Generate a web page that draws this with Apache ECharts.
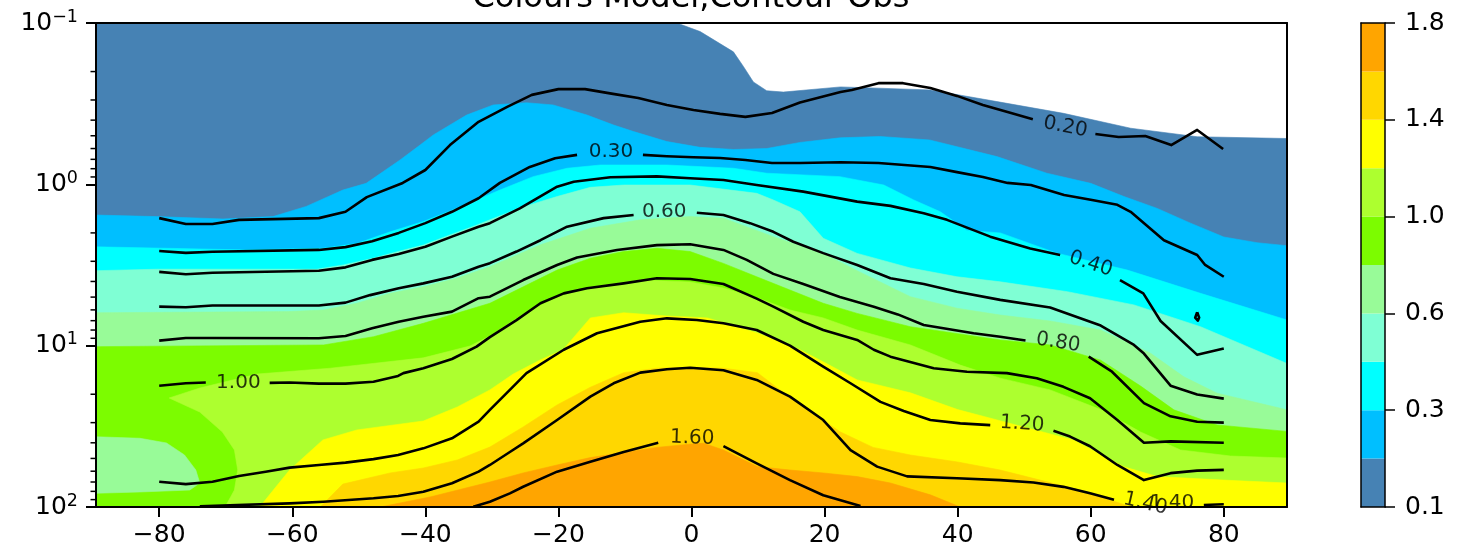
<!DOCTYPE html>
<html>
<head>
<meta charset="utf-8">
<script src="https://cdn.jsdelivr.net/npm/echarts@6/dist/echarts.min.js"></script>
<style>
html,body{margin:0;padding:0;background:#fff;}
#c{width:1463px;height:556px;}
</style>
</head>
<body>
<div id="c"></div>
<script>
// ---------------- data ----------------
const levels = [0.1, 0.2, 0.3, 0.4, 0.6, 0.8, 1.0, 1.2, 1.4, 1.6, 1.8];
const bandColors = ['#4682B4', '#00BFFF', '#00FFFF', '#7FFFD4', '#98FB98', '#7CFC00', '#ADFF2F', '#FFFF00', '#FFD700', '#FFA500'];
const latTicks = [-80, -60, -40, -20, 0, 20, 40, 60, 80];
const pMinorTicks = [0.2,0.3,0.4,0.5,0.6,0.7,0.8,0.9, 2,3,4,5,6,7,8,9, 20,30,40,50,60,70,80,90];
const cbarTickIdx = [0, 2, 4, 6, 8, 10];

// Model field: regions where value >= level  ([lat, pressure])
const model010 = [[-89.5,0.1],[-2.2,0.1],[1.3,0.113],[6.3,0.151],[7.8,0.186],[9.3,0.232],[11.3,0.263],[13.8,0.268],[22.4,0.249],[35.9,0.26],[45.9,0.307],[55.9,0.363],[66.0,0.449],[76.0,0.507],[89.5,0.52],[89.5,100],[-89.5,100]];
const model020 = [[-89.5,1.55],[-80.4,1.585],[-70.4,1.64],[-62.9,1.585],[-57.9,1.37],[-52.4,1.085],[-48.9,0.986],[-43.8,0.706],[-40.8,0.571],[-38.8,0.494],[-33.8,0.372],[-29.8,0.322],[-24.8,0.312],[-20.8,0.322],[-15.7,0.372],[-11.7,0.429],[-8.7,0.471],[-3.7,0.543],[1.3,0.59],[6.3,0.608],[11.3,0.6],[16.3,0.55],[22.3,0.515],[28.3,0.505],[35.8,0.531],[45.9,0.673],[53.4,0.853],[60.0,0.986],[65.0,1.19],[70.0,1.41],[75.0,1.74],[80.0,2.12],[85.0,2.3],[89.5,2.4],[89.5,100],[-89.5,100]];
const model030 = [[-89.5,2.44],[-67.0,2.55],[-55.3,2.49],[-50.3,2.33],[-45.3,1.97],[-40.3,1.70],[-35.3,1.41],[-32.3,1.25],[-28.8,1.085],[-23.8,0.896],[-18.7,0.795],[-13.7,0.759],[-3.7,0.759],[6.3,0.795],[11.3,0.853],[22.3,0.896],[28.9,1.01],[33.4,1.25],[37.4,1.48],[41.4,1.93],[46.4,2.0],[54.9,2.67],[65.5,3.40],[76.5,4.74],[89.5,6.93],[89.5,100],[-89.5,100]];
const model040 = [[-89.5,3.43],[-80.4,3.36],[-56.3,3.36],[-52.3,3.16],[-47.8,2.87],[-44.1,2.61],[-40.3,2.38],[-36.3,2.06],[-32.3,1.79],[-30.3,1.66],[-25.3,1.38],[-20.2,1.19],[-15.2,1.044],[-10.2,1.01],[-0.2,1.01],[9.8,1.137],[12.3,1.25],[16.3,1.48],[19.8,2.16],[24.9,2.68],[32.9,3.30],[39.9,3.74],[46.4,4.02],[56.5,4.63],[66.5,5.59],[76.5,7.63],[89.5,12.9],[89.5,100],[-89.5,100]];
const model060 = [[-89.5,6.25],[-60.6,6.15],[-55.3,6.01],[-50.3,5.46],[-45.3,4.74],[-40.3,4.32],[-35.3,3.82],[-30.3,3.24],[-22.8,2.38],[-15.2,1.87],[-7.7,1.66],[-0.2,1.585],[4.8,1.62],[12.3,2.11],[19.8,2.68],[24.9,3.43],[32.9,4.97],[39.9,5.86],[46.4,6.46],[53.9,7.03],[61.5,8.0],[69.0,11.15],[74.0,15.6],[79.0,19.7],[89.5,25.0],[89.5,100],[-89.5,100]];
const model080 = [[-89.5,10.14],[-55.3,9.9],[-47.8,8.8],[-40.3,7.27],[-35.3,6.3],[-30.3,5.46],[-25.3,4.32],[-20.2,3.40],[-15.2,2.87],[-10.2,2.61],[-5.2,2.49],[-0.2,2.61],[4.8,3.09],[9.8,3.74],[14.8,4.52],[19.8,5.46],[24.9,6.31],[32.9,7.63],[46.4,9.22],[53.9,9.9],[61.5,12.3],[67.5,17.8],[72.5,25.0],[79.0,31.0],[89.5,34.0],[89.5,100],[-89.5,100]];
const model100 = [[-70.1,100],[-68.7,78.5],[-68.2,59.0],[-68.7,44.3],[-70.5,34.3],[-73.9,25.8],[-78.5,21.1],[-73.9,18.3],[-65.3,15.0],[-54.3,13.8],[-40.3,11.9],[-33.3,10.05],[-30.3,8.72],[-25.3,6.37],[-20.2,4.99],[-15.2,4.33],[-7.7,3.92],[-0.2,4.03],[4.8,4.39],[9.9,5.06],[14.8,6.01],[19.8,6.73],[24.9,8.0],[32.9,9.9],[40.4,13.2],[46.4,15.9],[53.9,18.8],[61.5,24.9],[67.5,34.3],[73.5,44.3],[81.0,48.3],[89.5,49.7],[89.5,100]];
const model120 = [[-64.9,100],[-62.6,76.3],[-60.4,59.0],[-55.4,38.4],[-50.3,33.3],[-40.3,29.3],[-35.2,24.0],[-30.3,18.8],[-26.8,15.0],[-22.8,12.3],[-19.3,10.6],[-15.2,6.73],[-10.2,6.25],[-3.7,6.55],[2.4,6.73],[9.9,8.35],[16.3,10.6],[19.8,12.6],[24.9,16.3],[32.9,19.6],[40.0,24.9],[49.9,31.9],[57.4,38.4],[64.9,56.2],[70.0,64.8],[79.9,68.1],[89.5,71.0],[89.5,100]];
const model140 = [[-55.8,100],[-52.4,72.1],[-45.3,61.5],[-40.3,57.3],[-35.2,51.1],[-30.3,42.5],[-25.3,31.9],[-20.2,23.3],[-15.2,18.1],[-10.2,14.7],[-5.2,13.8],[-0.2,13.6],[4.8,13.8],[9.9,14.7],[13.3,18.8],[17.4,25.0],[22.4,34.3],[27.3,42.7],[32.9,47.6],[40.0,52.6],[46.4,59.0],[52.4,68.1],[59.9,81.7],[66.0,100]];
const model160 = [[-46.8,100],[-39.3,86.7],[-30.3,70.0],[-25.3,61.5],[-20.2,54.9],[-15.2,49.4],[-10.2,46.0],[-5.2,42.7],[0,40.7],[1.8,40.3],[4.8,44.3],[9.9,56.2],[14.8,59.0],[19.8,61.5],[24.9,64.8],[29.9,71.0],[35.9,84.1],[40.4,100]];
// pocket below 0.8 inside the 0.8-1.0 band (south-west corner)
const modelPatch060 = [[-89.5,36.7],[-82.9,37.5],[-78.9,40.1],[-76.2,47.6],[-74.5,59.0],[-73.9,71.0],[-75.4,78.5],[-82.9,80.7],[-89.5,82.2]];

// Observed contours ([lat, pressure]); null = gap for the inline label
const obs020 = [[-80,1.62],[-76,1.76],[-72,1.76],[-68,1.66],[-56,1.62],[-52,1.48],[-48.8,1.2],[-43.4,0.98],[-40,0.815],[-36.3,0.571],[-32,0.41],[-27.7,0.331],[-24,0.279],[-20,0.257],[-16,0.257],[-11.8,0.275],[-8,0.292],[-3.7,0.322],[0.3,0.346],[4.3,0.366],[8.1,0.382],[12.1,0.361],[16.3,0.311],[22.4,0.268],[24.1,0.26],[28.1,0.236],[31.8,0.236],[35.9,0.253],[39.9,0.283],[43.8,0.322],[47.5,0.356],[51.3,0.395],null,[60.7,0.488],[64.2,0.509],[68.2,0.502],[72.1,0.571],[76,0.46],[79.9,0.604]];
const obs030 = [[-80,2.59],[-76,2.66],[-72,2.62],[-56,2.55],[-52,2.45],[-48,2.25],[-44,2.0],[-40,1.74],[-36,1.48],[-32,1.22],[-28.8,0.98],[-24.3,0.78],[-20.5,0.69],[-17.2,0.657],null,[-7.3,0.657],[-3.7,0.67],[0.3,0.68],[4.3,0.687],[8.1,0.706],[12.1,0.738],[16.3,0.738],[22.4,0.73],[28.1,0.738],[35.9,0.78],[39.9,0.84],[43.8,0.90],[47.5,0.98],[51,1.01],[56,1.165],[60.2,1.25],[64,1.34],[66,1.48],[71,2.22],[76,2.74],[77.2,3.16],[80,3.74]];
const obs040 = [[-80,3.49],[-76,3.61],[-72,3.53],[-56,3.43],[-52,3.27],[-48,2.94],[-44,2.70],[-40,2.44],[-36,2.11],[-32,1.83],[-30.3,1.74],[-25.8,1.41],[-20.2,1.035],[-17.7,0.963],[-12.2,0.904],[-5.2,0.893],[-0.2,0.917],[4.8,0.94],[9.8,1.01],[16.8,1.11],[24.9,1.28],[29.9,1.36],[34.9,1.51],[38.4,1.66],[44.9,2.11],[50.9,2.50],[55.4,2.74],null,[64.4,3.92],[67.9,4.74],[70.5,7.03],[76,11.4],[80,10.4]];
const obs040Loop = [[76.0,6.2],[76.3,6.7],[76.1,7.0],[75.8,7.0],[75.7,6.7],[76.0,6.2]];
const obs060 = [[-80,5.73],[-76,5.78],[-72,5.64],[-56,5.64],[-52,5.41],[-48.3,4.86],[-44,4.41],[-40.3,4.11],[-36,3.74],[-32,3.24],[-30.3,3.08],[-26.3,2.61],[-22.7,2.22],[-18.7,1.83],[-13.2,1.62],[-8.7,1.55],null,[0.8,1.50],[4.8,1.55],[8.8,1.74],[12.3,1.97],[15.3,2.27],[19.8,2.67],[24.9,3.16],[29.9,3.82],[34.9,4.15],[39.9,4.63],[46.4,5.2],[53.9,5.8],[61.5,7.5],[66.5,9.9],[68,11.2],[72,17.7],[76,20.1],[80,21.3]];
const obs080 = [[-80,9.31],[-76,8.96],[-72,8.96],[-56,9.0],[-52,8.71],[-48,7.81],[-44,7.11],[-40.3,6.61],[-36,6.15],[-32,5.08],[-30.3,4.97],[-25.3,3.92],[-20.2,3.16],[-17.2,2.84],[-11.2,2.55],[-5.2,2.38],[-0.2,2.35],[4.8,2.55],[8.3,2.94],[12.3,3.59],[16.8,4.15],[22.3,4.99],[27.4,5.73],[31,6.4],[34.9,7.45],[42.4,8.38],[46.4,8.8],[50.2,9.3],null,[59.7,11.7],[63.2,14.5],[68,22.7],[72,27.4],[76,29.6],[80,30.0]];
const obs100 = [[-80,17.7],[-76,17.1],[-73,16.9],null,[-63.4,17.0],[-60.4,16.9],[-56,17.2],[-52,17.2],[-47.8,16.75],[-44.1,15.4],[-43.3,14.8],[-40.3,13.8],[-36,12.1],[-32.3,10.14],[-30.3,8.85],[-26.3,6.94],[-22.7,5.46],[-19.2,4.74],[-15.7,4.41],[-10.2,4.11],[-5.2,3.82],[-0.2,3.86],[4.8,4.15],[9.8,5.11],[12.3,5.73],[16.8,7.11],[19.8,8.0],[24.9,9.22],[27.4,10.6],[29.9,11.7],[36.4,13.8],[41.4,14.5],[47.4,14.8],[51.9,15.9],[55.9,18.0],[59.9,21.2],[64,28.9],[68,40.0],[72,39.2],[80,40.0]];
const obs120 = [[-80,69.7],[-76,72.1],[-72,69.7],[-68,64.3],[-64,60.4],[-60.4,57.0],[-56,54.9],[-52,53.1],[-47.8,50.5],[-44.1,47.6],[-40.3,43.3],[-36,37.5],[-32,29.6],[-30.3,25.0],[-27.3,18.8],[-24.8,14.8],[-19.2,10.6],[-14.2,8.38],[-7.7,7.11],[-3.7,6.77],[0.8,6.94],[4.8,7.27],[9.8,8.0],[14.8,10.0],[19.8,13.5],[23.9,17.1],[28.4,22.3],[31.9,25.4],[35.9,28.9],[40.4,30.3],[44.9,31.1],null,[54.4,33.7],[56.9,36.6],[59.9,42.0],[64,54.9],[68,68.1],[72,61.7],[76,59.5],[80,58.9]];
const obs140 = [[-73.9,99],[-60.4,94.9],[-55.3,92.7],[-47.8,88.3],[-44.1,85.5],[-40.3,80.4],[-36,71.3],[-32,60.4],[-30.3,54.9],[-27.3,45.6],[-25.3,40.3],[-20.2,28.9],[-15.2,20.7],[-11.7,17.1],[-7.7,14.7],[-3.7,14.0],[-0.2,13.7],[4.8,14.2],[9.8,16.3],[14.8,20.7],[19.8,28.9],[23.9,44.4],[27.9,56.2],[32.4,64.6],[39.9,66.4],[46.4,68.1],[51.4,70.5],[55.9,75.0],[59.9,82.3],[63.5,90.2],null,[77,97.2],[80,96.2]];
const obs160 = [[-32.8,99.6],[-30.3,92.7],[-27.3,82.3],[-25.3,74.9],[-20.2,60.4],[-15.2,52.4],[-10.2,45.6],[-5.0,40.0],null,[4.8,42.0],[9.8,53.6],[14.8,68.1],[19.8,84.6],[25.4,98.6]];

// Inline contour labels
const contourLabelText = ['0.20', '0.30', '0.40', '0.60', '0.80', '1.00', '1.20', '1.60', '1.40', '1.40'];
const contourLabelLat  = [56.2, -12.1, 60.0, -4.1, 55.1, -68.1, 49.7, 0.1, 68.2, 72.2];
const contourLabelP    = [0.441, 0.631, 3.12, 1.48, 9.56, 16.9, 30.6, 37.4, 95.5, 94.4];
const labelAngles      = [-11, 0, -18, 0, -9, 0, -4, -2, -13, 0];

const titleText = 'Colours Model,Contour Obs';

// ---------------- chart ----------------
const FONT = 'DejaVu Sans';
const LAT_MIN = -89.5, LAT_MAX = 89.5;
const chart = echarts.init(document.getElementById('c'), null, {renderer: 'canvas', width: 1463, height: 556});

function polySeries(poly, color) {
  return {
    type: 'custom', xAxisIndex: 0, yAxisIndex: 0, data: poly, clip: true, silent: true, z: 2,
    animation: false,
    renderItem: function (params, api) {
      if (params.dataIndex !== 0) return null;
      const pts = poly.map(d => api.coord(d));
      return {type: 'polygon', shape: {points: pts}, style: {fill: color, stroke: color, lineWidth: 0.6}};
    }
  };
}

function lineSeries(arr) {
  const segs = []; let cur = [];
  arr.forEach(d => { if (d === null) { if (cur.length) segs.push(cur); cur = []; } else cur.push(d); });
  if (cur.length) segs.push(cur);
  return segs.map(s => ({
    type: 'line', xAxisIndex: 0, yAxisIndex: 0, data: s, showSymbol: false, symbol: 'none',
    lineStyle: {color: '#000', width: 2.6, join: 'round'}, z: 5, silent: true, clip: true, animation: false
  }));
}

const fillLayers = [model010, model020, model030, model040, model060, model080, model100, model120, model140, model160];
const series = [];
fillLayers.forEach((poly, i) => series.push(polySeries(poly, bandColors[i])));
series.push(polySeries(modelPatch060, bandColors[4]));

[obs020, obs030, obs040, obs040Loop, obs060, obs080, obs100, obs120, obs140, obs160].forEach(a => {
  lineSeries(a).forEach(s => series.push(s));
});

series.push({
  type: 'scatter', xAxisIndex: 0, yAxisIndex: 0, symbolSize: 0, silent: true, z: 6, animation: false,
  data: contourLabelText.map((t, i) => ({
    value: [contourLabelLat[i], contourLabelP[i]],
    label: {formatter: t, rotate: labelAngles[i]}
  })),
  label: {show: true, position: 'inside', fontSize: 20, fontFamily: FONT, color: '#000'}
});

// y minor ticks (matplotlib style log minor ticks)
series.push({
  type: 'custom', xAxisIndex: 0, yAxisIndex: 0, clip: false, silent: true, z: 10, animation: false,
  data: pMinorTicks.map(p => [LAT_MIN, p]),
  renderItem: function (params, api) {
    const pt = api.coord([api.value(0), api.value(1)]);
    return {type: 'line', shape: {x1: pt[0] - 5.5, y1: pt[1], x2: pt[0], y2: pt[1]}, style: {stroke: '#000', lineWidth: 1.5}};
  }
});

// colorbar
for (let i = 0; i < bandColors.length; i++) {
  series.push({
    type: 'bar', xAxisIndex: 2, yAxisIndex: 2, stack: 'cb', data: [1], barWidth: '100%',
    itemStyle: {color: bandColors[i]}, silent: true, z: 2, animation: false
  });
}

const spine = {show: true, onZero: false, lineStyle: {color: '#000', width: 2}};
const spineThin = {show: true, onZero: false, lineStyle: {color: '#000', width: 1.5}};
const off = {show: false};

function supFormatter(v) {
  const e = Math.round(Math.log10(v));
  return '{b|10}{s|' + (e < 0 ? '\u2212' + (-e) : String(e)) + '}';
}

chart.setOption({
  animation: false,
  backgroundColor: '#fff',
  graphic: [{
    type: 'text', x: 691, y: 15, silent: true, z: 20,
    style: {text: titleText, font: '32px "DejaVu Sans"', fill: '#000',
            align: 'center', verticalAlign: 'bottom', textAlign: 'center', textVerticalAlign: 'bottom'}
  }],
  grid: [
    {left: 96, top: 23, width: 1191, height: 484, containLabel: false},
    {left: 1361, top: 23, width: 24, height: 484, containLabel: false}
  ],
  xAxis: [
    {type: 'value', gridIndex: 0, min: LAT_MIN, max: LAT_MAX, position: 'bottom', z: 10,
     axisLine: spine,
     axisTick: {show: true, customValues: latTicks, length: 10, lineStyle: {color: '#000', width: 2}},
     axisLabel: {show: true, customValues: latTicks, margin: 16, fontSize: 25, fontFamily: FONT, color: '#000',
                 formatter: v => (v < 0 ? '\u2212' + Math.abs(v) : String(v))},
     splitLine: off},
    {type: 'value', gridIndex: 0, min: LAT_MIN, max: LAT_MAX, position: 'top', z: 10,
     axisLine: spine, axisTick: off, axisLabel: off, splitLine: off},
    {type: 'category', gridIndex: 1, data: ['cb'], position: 'bottom', z: 10,
     axisLine: spineThin, axisTick: off, axisLabel: off, splitLine: off},
    {type: 'category', gridIndex: 1, data: ['cb'], position: 'top', z: 10,
     axisLine: spineThin, axisTick: off, axisLabel: off, splitLine: off}
  ],
  yAxis: [
    {type: 'log', logBase: 10, gridIndex: 0, min: 0.1, max: 100, inverse: true, position: 'left', z: 10,
     axisLine: spine,
     axisTick: {show: true, length: 10, lineStyle: {color: '#000', width: 2}},
     minorTick: off,
     axisLabel: {show: true, margin: 18, showMinLabel: true, showMaxLabel: true, formatter: supFormatter,
                 rich: {
                   b: {fontSize: 25, fontFamily: FONT, color: '#000', lineHeight: 30},
                   s: {fontSize: 17.5, fontFamily: FONT, color: '#000', lineHeight: 18, verticalAlign: 'top'}
                 }},
     splitLine: off},
    {type: 'value', gridIndex: 0, min: 0, max: 1, position: 'right', z: 10,
     axisLine: spine, axisTick: off, axisLabel: off, splitLine: off},
    {type: 'value', gridIndex: 1, min: 0, max: 10, interval: 2, position: 'right', z: 10,
     axisLine: spineThin,
     axisTick: {show: true, length: 10, lineStyle: {color: '#000', width: 1.5}},
     axisLabel: {show: true, margin: 20, showMinLabel: true, showMaxLabel: true, fontSize: 25, fontFamily: FONT, color: '#000',
                 formatter: v => levels[Math.round(v)].toFixed(1)},
     splitLine: off},
    {type: 'value', gridIndex: 1, min: 0, max: 10, position: 'left', z: 10,
     axisLine: spineThin, axisTick: off, axisLabel: off, splitLine: off}
  ],
  series: series
});
</script>
</body>
</html>
